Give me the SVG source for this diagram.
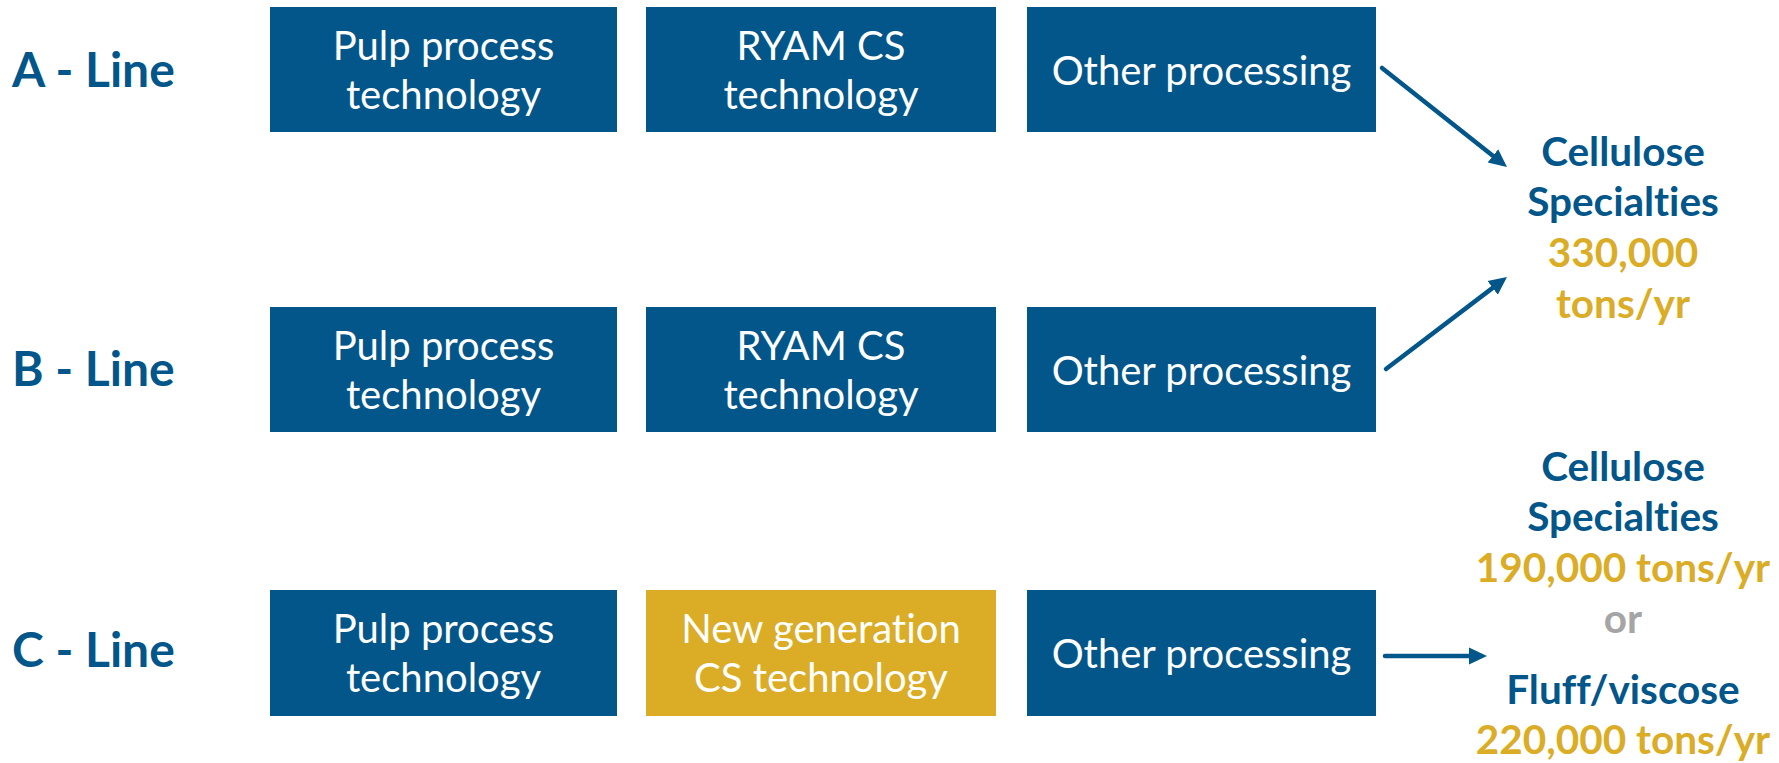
<svg xmlns="http://www.w3.org/2000/svg" width="1779" height="763" viewBox="0 0 1779 763">
<style>
text{font-variant-ligatures:none;font-feature-settings:"liga" 0,"clig" 0,"dlig" 0}
.box{fill:#03568A}
.gold{fill:#DBAD27}
.bt{font-family:Lato,"Liberation Sans",sans-serif;font-size:40px;fill:#FFFFFF;text-anchor:middle}
.rl{font-family:Lato,"Liberation Sans",sans-serif;font-size:48px;font-weight:bold;fill:#03568A}
.out{font-family:Lato,"Liberation Sans",sans-serif;font-size:40.5px;font-weight:bold;text-anchor:middle}
.ob{fill:#03568A}
.og{fill:#DBAD27}
.or{fill:#A5A5A5}
.conn{stroke:#03568A;stroke-width:4.5;fill:none;stroke-linecap:round}
</style>
<defs>
<marker id="ah" markerUnits="userSpaceOnUse" markerWidth="20" markerHeight="20" viewBox="0 -10 20 20" refX="12" refY="0" orient="auto">
<path d="M0,-8.5 L18,0 L0,8.5 z" fill="#03568A"/>
</marker>
</defs>
<rect width="1779" height="763" fill="#FFFFFF"/>
<g id="label-a"><text class="rl" x="12" y="87">A - Line</text></g>
<g id="label-b"><text class="rl" x="12" y="386">B - Line</text></g>
<g id="label-c"><text class="rl" x="12" y="667">C - Line</text></g>
<g id="a-pulp"><rect class="box" x="270" y="7" width="347" height="125"/><text class="bt" x="443.5" y="60">Pulp process</text><text class="bt" x="443.5" y="109">technology</text></g>
<g id="a-ryam"><rect class="box" x="646" y="7" width="350" height="125"/><text class="bt" x="821" y="60">RYAM CS</text><text class="bt" x="821" y="109">technology</text></g>
<g id="a-other"><rect class="box" x="1027" y="7" width="349" height="125"/><text class="bt" x="1201.5" y="85">Other processing</text></g>
<g id="b-pulp"><rect class="box" x="270" y="307" width="347" height="125"/><text class="bt" x="443.5" y="360">Pulp process</text><text class="bt" x="443.5" y="409">technology</text></g>
<g id="b-ryam"><rect class="box" x="646" y="307" width="350" height="125"/><text class="bt" x="821" y="360">RYAM CS</text><text class="bt" x="821" y="409">technology</text></g>
<g id="b-other"><rect class="box" x="1027" y="307" width="349" height="125"/><text class="bt" x="1201.5" y="385">Other processing</text></g>
<g id="c-pulp"><rect class="box" x="270" y="590" width="347" height="126"/><text class="bt" x="443.5" y="643">Pulp process</text><text class="bt" x="443.5" y="692">technology</text></g>
<g id="c-new"><rect class="gold" x="646" y="590" width="350" height="126"/><text class="bt" x="821" y="643">New generation</text><text class="bt" x="821" y="692">CS technology</text></g>
<g id="c-other"><rect class="box" x="1027" y="590" width="349" height="126"/><text class="bt" x="1201.5" y="668">Other processing</text></g>
<g id="out-ab">
<text class="out ob" x="1623" y="166">Cellulose</text>
<text class="out ob" x="1623" y="216">Specialties</text>
<text class="out og" x="1623" y="267">330,000</text>
<text class="out og" x="1623" y="318">tons/yr</text>
</g>
<g id="out-c">
<text class="out ob" x="1623" y="481">Cellulose</text>
<text class="out ob" x="1623" y="531">Specialties</text>
<text class="out og" x="1623" y="582">190,000 tons/yr</text>
<text class="out or" x="1623" y="633">or</text>
<text class="out ob" x="1623" y="704">Fluff/viscose</text>
<text class="out og" x="1623" y="754">220,000 tons/yr</text>
</g>
<g id="connectors">
<line class="conn" x1="1382" y1="68" x2="1502.3" y2="163.3" marker-end="url(#ah)"/>
<line class="conn" x1="1386" y1="369" x2="1502.2" y2="280.6" marker-end="url(#ah)"/>
<line class="conn" x1="1385" y1="656" x2="1481" y2="656" marker-end="url(#ah)"/>
</g>
</svg>
